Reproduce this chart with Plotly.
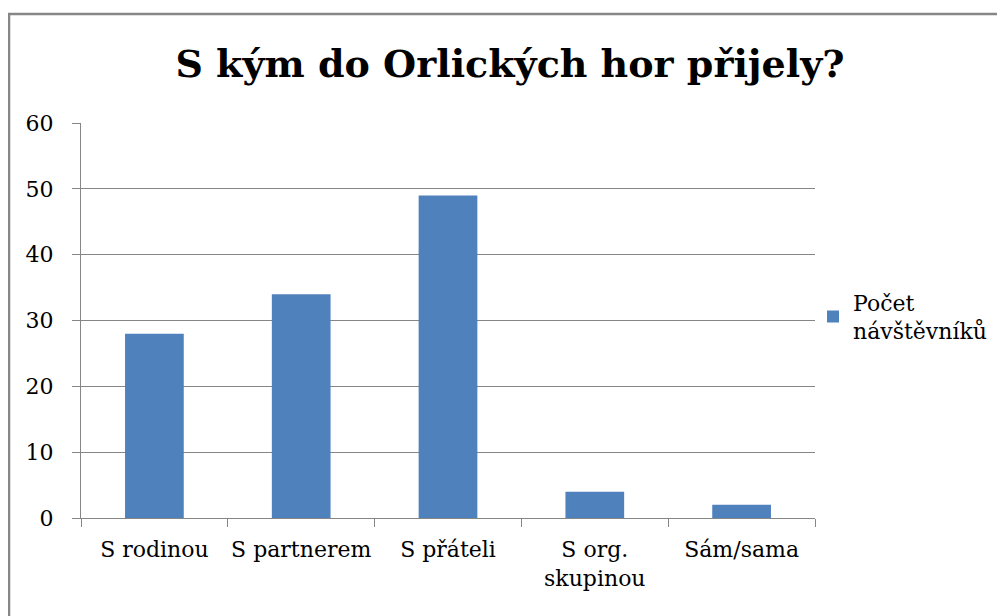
import plotly.graph_objects as go

categories = ["S rodinou", "S partnerem", "S přáteli", "S org.<br>skupinou", "Sám/sama"]
values = [28, 34, 49, 4, 2]
series_name = "Počet<br>návštěvníků"
title_text = "S kým do Orlických hor přijely?"

OFF = 8  # page body margin
W, H = 1005 - OFF, 616 - OFF
L, R, T, B = 81 - OFF, 815 - OFF, 123 - OFF, 518 - OFF

FAM = "DejaVu Serif"

fig = go.Figure()
fig.add_trace(go.Bar(x=categories, y=values, name=series_name, width=0.4,
                     marker=dict(color="#4F81BD", line=dict(width=0)),
                     showlegend=True))

font = dict(family=FAM, size=22, color="black")

fig.update_layout(
    width=W, height=H,
    margin=dict(l=L, r=W - R, t=T, b=H - B, autoexpand=False),
    paper_bgcolor="white", plot_bgcolor="white",
    font=font,
    title=dict(text="<b>" + title_text + "</b>", x=(510 - OFF) / W, xanchor="center",
               y=1 - (64 - OFF) / H, yanchor="middle", yref="container",
               font=dict(family=FAM, size=38, color="black")),
    showlegend=True,
    legend=dict(x=(813 - OFF - L) / (R - L), xanchor="left", y=(B - (317 - OFF)) / (B - T), yanchor="middle",
                font=font, bgcolor="rgba(0,0,0,0)", itemwidth=30, tracegroupgap=0),
    xaxis=dict(type="category", showline=True, linecolor="#868686", linewidth=1,
               ticks="outside", tickson="boundaries", ticklen=8, tickcolor="#868686",
               showgrid=False, tickfont=font, tickangle=0, ticklabelstandoff=12),
    yaxis=dict(range=[0, 60], dtick=10, showline=True, linecolor="#868686", linewidth=1,
               ticks="outside", ticklen=8, tickcolor="#868686",
               showgrid=True, gridcolor="#868686", gridwidth=1, zeroline=False,
               tickfont=font, ticklabelstandoff=14),
    shapes=[dict(type="rect", xref="paper", yref="paper",
                 x0=(9 - OFF - L) / (R - L), x1=(1015 - L) / (R - L),
                 y0=(B - 640) / (B - T), y1=(B - (14 - OFF)) / (B - T),
                 line=dict(color="#868686", width=2.5), fillcolor="rgba(0,0,0,0)", layer="below")],
)

fig.write_html("out.html")
